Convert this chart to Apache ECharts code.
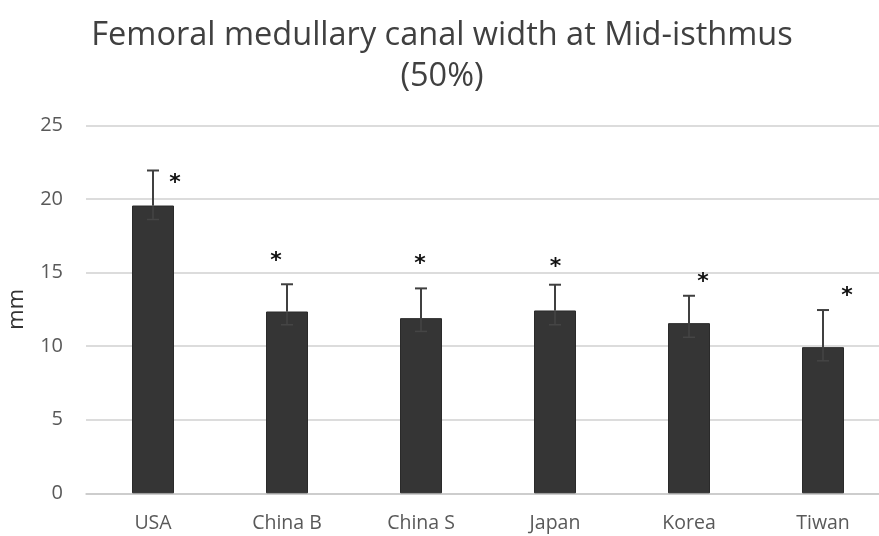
<!DOCTYPE html>
<html>
<head>
<meta charset="utf-8">
<script src="https://cdn.jsdelivr.net/npm/echarts@6/dist/echarts.min.js"></script>
<style>html,body{margin:0;padding:0;background:#fff}#c{width:879px;height:536px}</style>
</head>
<body>
<div id="c"></div>
<script>
var categories = ['USA', 'China B', 'China S', 'Japan', 'Korea', 'Tiwan'];
var means = [19.55, 12.35, 11.9, 12.42, 11.56, 9.93];
var errUpper = [21.93, 14.2, 13.92, 14.17, 13.42, 12.45];
var errLower = [18.6, 11.45, 11.0, 11.45, 10.6, 9.0];
var asteriskY = [21.4, 16.1, 15.87, 15.7, 14.65, 13.7];
var yTicks = [0, 5, 10, 15, 20, 25];

// horizontal placement of each asterisk relative to its category (fraction of band)
var asteriskShift = [0.164, -0.082, -0.007, 0.004, 0.104, 0.18];

var chart = echarts.init(document.getElementById('c'), null, {renderer: 'canvas'});
var FONT = '"Open Sans", "DejaVu Sans", sans-serif';

var errData = categories.map(function (c, i) { return [i, errLower[i], errUpper[i]]; });
var astData = categories.map(function (c, i) { return [i, asteriskY[i]]; });

chart.setOption({
  animation: false,
  backgroundColor: '#ffffff',
  title: {
    text: 'Femoral medullary canal width at Mid-isthmus\n(50%)',
    left: 437,
    textAlign: 'center',
    top: 10,
    textStyle: {fontFamily: FONT, fontSize: 32.5, fontWeight: 'normal', color: '#404040', lineHeight: 41}
  },
  grid: {left: 86, width: 804, top: 125.3, bottom: 42.7, containLabel: false, outerBoundsMode: 'none'},
  xAxis: {
    type: 'category',
    data: categories,
    axisLine: {show: true, lineStyle: {color: '#c8c8c8', width: 1.5}},
    axisTick: {show: false},
    axisLabel: {fontFamily: FONT, fontSize: 19.5, color: '#595959', margin: 20}
  },
  yAxis: {
    type: 'value',
    min: yTicks[0],
    max: yTicks[yTicks.length - 1],
    interval: 5,
    name: 'mm',
    nameLocation: 'middle',
    nameGap: 58,
    nameRotate: 90,
    nameTextStyle: {fontFamily: FONT, fontSize: 22, color: '#333333'},
    axisLine: {show: false},
    axisTick: {show: false},
    axisLabel: {fontFamily: FONT, fontSize: 20, color: '#595959', margin: 23},
    splitLine: {lineStyle: {color: '#d0d0d0', width: 1.5}}
  },
  series: [
    {
      type: 'bar',
      data: means,
      barWidth: 42,
      itemStyle: {color: '#353535', borderColor: '#2a2a2a', borderWidth: 1}
    },
    {
      type: 'custom',
      data: errData,
      z: 5,
      renderItem: function (params, api) {
        var x = api.value(0);
        var lo = api.coord([x, api.value(1)]);
        var hi = api.coord([x, api.value(2)]);
        var mid = api.coord([x, means[params.dataIndex]]);
        var cap = 6;
        var dark = {stroke: '#404040', lineWidth: 2};
        var faint = {stroke: '#454545', lineWidth: 1.5};
        return {
          type: 'group',
          children: [
            {type: 'line', shape: {x1: hi[0], y1: hi[1], x2: mid[0], y2: mid[1]}, style: dark},
            {type: 'line', shape: {x1: hi[0] - cap, y1: hi[1], x2: hi[0] + cap, y2: hi[1]}, style: dark},
            {type: 'line', shape: {x1: mid[0], y1: mid[1], x2: lo[0], y2: lo[1]}, style: faint},
            {type: 'line', shape: {x1: lo[0] - cap, y1: lo[1], x2: lo[0] + cap, y2: lo[1]}, style: faint}
          ]
        };
      }
    },
    {
      type: 'custom',
      data: astData,
      z: 6,
      renderItem: function (params, api) {
        var i = params.dataIndex;
        var p = api.coord([api.value(0), api.value(1)]);
        var band = api.size([1, 0])[0];
        return {
          type: 'text',
          x: p[0] + asteriskShift[i] * band,
          y: p[1] + 5,
          style: {text: '*', fontFamily: '"DejaVu Sans", sans-serif', fontSize: 22, fontWeight: 'bold', fill: '#111', align: 'center', verticalAlign: 'middle'}
        };
      }
    }
  ]
});
</script>
</body>
</html>
